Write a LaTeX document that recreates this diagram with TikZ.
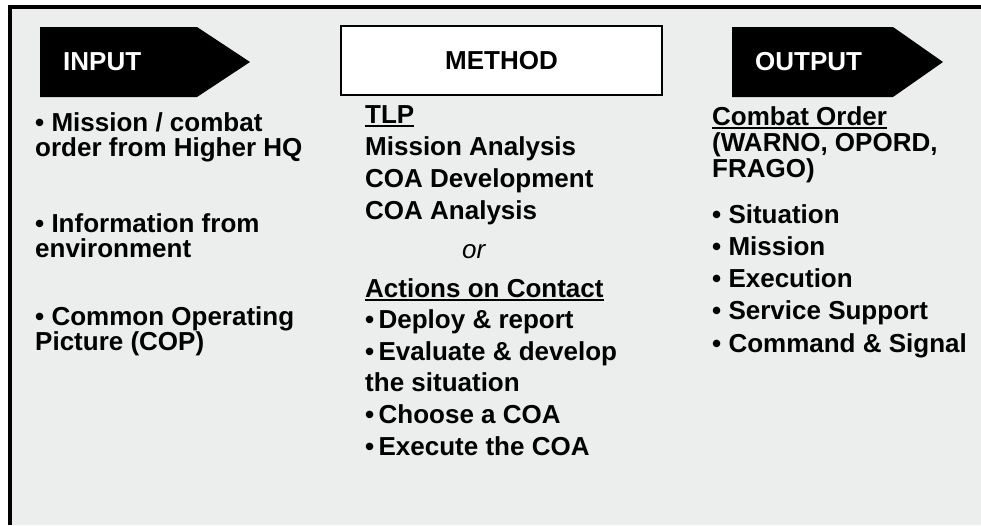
\documentclass[tikz,border=0pt]{standalone}
\usepackage{fontspec}
\setmainfont{Liberation Sans}
\usetikzlibrary{positioning}
\definecolor{slidegray}{RGB}{236,237,237}

% underline with a heavier rule than \underline
\newcommand{\undertext}[1]{\setbox0\hbox{#1}\rlap{\rule[-4pt]{\wd0}{2pt}}\box0}

\begin{document}
\begin{tikzpicture}[
    x=1pt, y=-1pt,
    pointer/.style={fill=black},
    headtext/.style={inner sep=0, anchor=base west, text=white, font=\fontsize{26}{26}\selectfont\bfseries},
    methodbox/.style={draw=black, line width=2.5pt, fill=white, minimum width=321pt, minimum height=69pt, text height=18.6pt, text depth=0pt, inner sep=0, font=\fontsize{26}{26}\selectfont\bfseries},
    coltext/.style={inner sep=0, anchor=base west, align=left, font=\fontsize{26}{#1}\selectfont\bfseries},
    coltext/.default=25
]
    \useasboundingbox (0,0) rectangle (981,525);
    % frame
    \fill[slidegray] (10,7) rectangle (981,525);
    \fill[black] (8,5) rectangle (12,525);
    \fill[black] (8,5) rectangle (981,9);

    % headers
    \fill[pointer] (40,27) -- (197,27) -- (250,62) -- (197,97) -- (40,97) -- cycle;
    \node[headtext] (input) at (63,70) {INPUT};
    \node[methodbox] (method) at (501.5,60.5) {METHOD};
    \fill[pointer] (732,27) -- (893,27) -- (943,62) -- (893,97) -- (732,97) -- cycle;
    \node[headtext] (output) at (755,70) {OUTPUT};

    % input column (base = last line)
    \node[coltext] (mission) at (35,156) {\textbullet{} Mission / combat\\order from Higher HQ};
    \node[coltext] (info) at (35,257) {\textbullet{} Information from\\environment};
    \node[coltext] (cop) at (35,350) {\textbullet{} Common Operating\\Picture (COP)};

    % method column
    \node[coltext=32] (tlp) at (365,219) {\undertext{TLP}\\Mission Analysis\\COA Development\\COA Analysis};
    \node[inner sep=0, anchor=base west, font=\fontsize{26}{26}\selectfont\itshape] (or) at (462,258) {or};
    \node[coltext=31.6] (contact) at (365,455) {\undertext{Actions on Contact}\\\textbullet\,Deploy \& report\\\textbullet\,Evaluate \& develop\\the situation\\\textbullet\,Choose a COA\\\textbullet\,Execute the COA};

    % output column
    \node[coltext=26] (order) at (712,177) {\undertext{Combat Order}\\(WARNO, OPORD,\\FRAGO)};
    \node[coltext=32.2] (paras) at (712,352) {\textbullet{} Situation\\\textbullet{} Mission\\\textbullet{} Execution\\\textbullet{} Service Support\\\textbullet{} Command \& Signal};
\end{tikzpicture}
\end{document}
